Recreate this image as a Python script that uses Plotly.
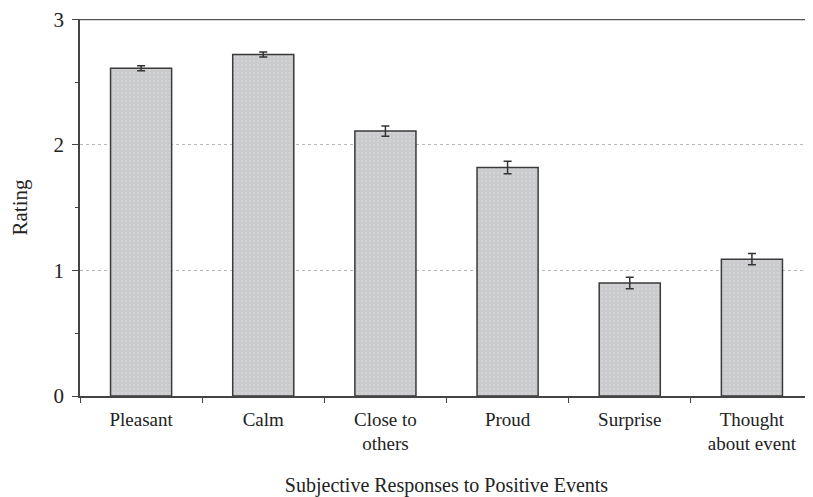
import plotly.graph_objects as go

categories = ["Pleasant", "Calm", "Close to<br>others", "Proud", "Surprise", "Thought<br>about event"]
ratings = [2.61, 2.72, 2.11, 1.82, 0.90, 1.09]
errors = [0.02, 0.02, 0.04, 0.05, 0.045, 0.045]
y_ticks = [0, 1, 2, 3]

font_family = "Liberation Serif, DejaVu Serif, serif"

fig = go.Figure()
fig.add_trace(go.Bar(
    x=categories,
    y=ratings,
    width=0.5,
    marker=dict(
        color="#cdcfd0",
        line=dict(color="#3a3a3a", width=1.5),
        pattern=dict(shape=".", fgcolor="#e8e0ea", bgcolor="#c9cbcc", size=4, solidity=0.2),
    ),
    error_y=dict(type="data", array=errors, visible=True, color="#333333", thickness=1.5, width=4),
))

fig.add_shape(type="line", xref="paper", yref="y", x0=0, x1=1, y0=3, y1=3,
              line=dict(color="#555555", width=1.5))

fig.update_layout(
    width=805, height=489,
    margin=dict(l=72, r=0, t=8, b=101),
    plot_bgcolor="white", paper_bgcolor="white",
    showlegend=False,
    bargap=0.5,
    font=dict(family=font_family, size=20, color="#222222"),
    xaxis=dict(
        showline=True, linecolor="#444444", linewidth=1.5,
        ticks="outside", ticklen=5, tickcolor="#444444",
        tickson="boundaries",
        ticklabelstandoff=5,
        title=dict(text="Subjective Responses to Positive Events", standoff=28,
                   font=dict(family=font_family, size=20)),
        tickfont=dict(family=font_family, size=19),
    ),
    yaxis=dict(
        range=[0, 3.003],
        tickvals=y_ticks,
        showline=True, linecolor="#444444", linewidth=1.5,
        ticks="outside", ticklen=6, tickcolor="#444444",
        ticklabelstandoff=4,
        ticklabeloverflow="allow",
        minor=dict(dtick=0.5, ticks="outside", ticklen=3, tickcolor="#444444", showgrid=False),
        showgrid=True, gridcolor="#b8b8b8", gridwidth=1, griddash="dot",
        zeroline=False,
        title=dict(text="Rating", standoff=22, font=dict(family=font_family, size=21)),
        tickfont=dict(family=font_family, size=21),
    ),
)

fig.write_html("out.html")
